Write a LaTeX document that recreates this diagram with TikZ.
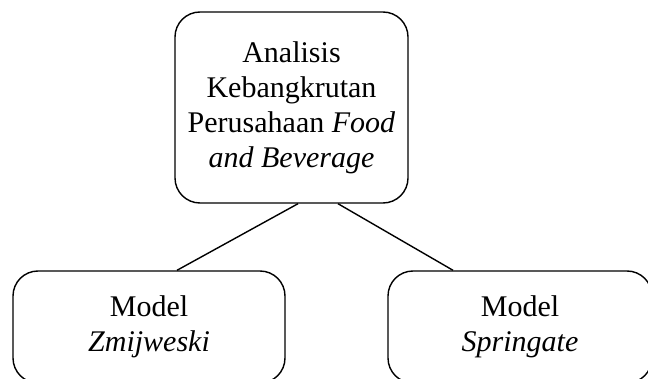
\documentclass[tikz,border=0pt]{standalone}
\usepackage{fontspec}
\setmainfont{Liberation Serif}

\begin{document}
\begin{tikzpicture}
  \tikzset {
    box/.style={
      rectangle,
      rounded corners=25pt,
      draw=black,
      line width=1.4pt,
      align=center,
      minimum height=112pt,
      font=\fontsize{30}{35}\selectfont
    }
  }
  \clip (0,0) rectangle (648pt,378pt);
  \node[box, minimum width=233pt, minimum height=191pt](analisis) at (291.5pt,270.5pt)
    {Analisis\\ Kebangkrutan\\ Perusahaan \textit{Food}\\ \textit{and Beverage}};
  \node[box, below of=analisis, xshift=-142.5pt, node distance=219.5pt, minimum width=272pt](zmijweski)
    {Model\\ \textit{Zmijweski}};
  \node[box, below of=analisis, xshift=228.5pt, node distance=219.5pt, minimum width=264pt](springate)
    {Model\\ \textit{Springate}};

  \path ([xshift=6.5pt]analisis.south) edge[line width=1.4pt] ([xshift=28pt]zmijweski.north);
  \path ([xshift=46.5pt]analisis.south) edge[line width=1.4pt] ([xshift=-67pt]springate.north);

\end{tikzpicture}
\end{document}
